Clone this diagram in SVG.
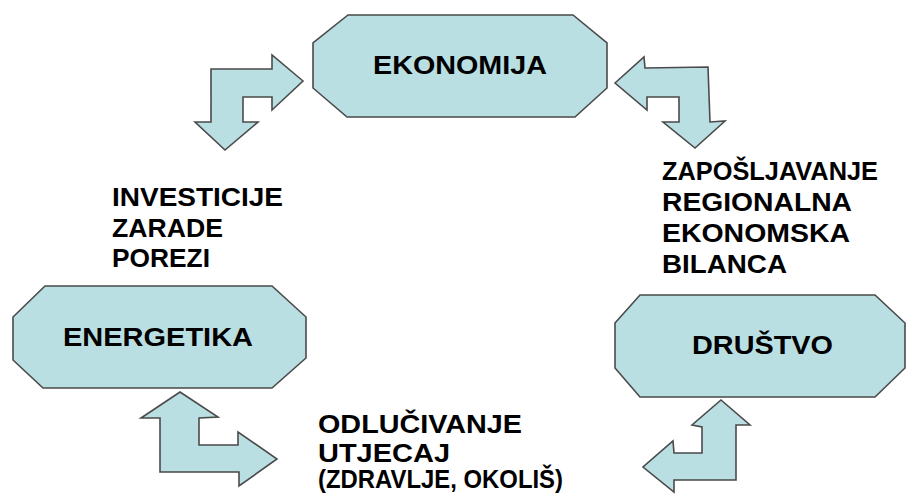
<svg xmlns="http://www.w3.org/2000/svg" width="913" height="495" viewBox="0 0 913 495">
<style>
.shape{fill:#BADFE3;stroke:#4a4a4a;stroke-width:1.6;stroke-linejoin:miter}
.lbl{font-family:"Liberation Sans",Arial,sans-serif;font-weight:bold;font-size:25px;fill:#000}
</style>
<rect width="913" height="495" fill="#fff"/>
<g id="ekonomija">
<polygon class="shape" points="348,15 573,15 607,43 607,88 575,117 347,117 313,88 313,43"/>
<text class="lbl" x="373" y="74" textLength="174" lengthAdjust="spacingAndGlyphs">EKONOMIJA</text>
</g>
<g id="energetika">
<polygon class="shape" points="45,286 272,286 306,317 306,358 272,388 43,388 13,360 13,317"/>
<text class="lbl" x="63" y="346" textLength="190" lengthAdjust="spacingAndGlyphs">ENERGETIKA</text>
</g>
<g id="drustvo">
<polygon class="shape" points="640,295 875,295 905,323 905,368 875,397 640,397 615,368 615,323"/>
<text class="lbl" x="692" y="354" textLength="141" lengthAdjust="spacingAndGlyphs">DRUŠTVO</text>
</g>
<g id="connectors">
<polygon class="shape" points="303,81 272,55 272,69 211,69 211,122 195,122 225,150 258,122 243,122 243,97 272,97 272,110"/>
<polygon class="shape" points="615,83 644,57 645,68 708,67 710,122 725,121 695,148 663,122 679,122 679,97 647,97 647,110"/>
<polygon class="shape" points="180,392 218,417 199,418 199,445 238,445 238,432 277,459 239,486 239,472 160,472 160,418 141,418"/>
<polygon class="shape" points="721,400 750,425 736,425 736,480 674,480 674,492 643,467 673,441 674,453 702,453 702,427 692,425"/>
</g>
<g id="labels">
<text class="lbl" x="112" y="206" textLength="171" lengthAdjust="spacingAndGlyphs">INVESTICIJE</text>
<text class="lbl" x="112" y="237" textLength="111" lengthAdjust="spacingAndGlyphs">ZARADE</text>
<text class="lbl" x="112" y="267" textLength="98" lengthAdjust="spacingAndGlyphs">POREZI</text>
<text class="lbl" x="662" y="180" textLength="216" lengthAdjust="spacingAndGlyphs">ZAPOŠLJAVANJE</text>
<text class="lbl" x="662" y="211" textLength="190" lengthAdjust="spacingAndGlyphs">REGIONALNA</text>
<text class="lbl" x="662" y="242" textLength="188" lengthAdjust="spacingAndGlyphs">EKONOMSKA</text>
<text class="lbl" x="662" y="273" textLength="125" lengthAdjust="spacingAndGlyphs">BILANCA</text>
<text class="lbl" x="318" y="433" textLength="204" lengthAdjust="spacingAndGlyphs">ODLUČIVANJE</text>
<text class="lbl" x="318" y="462" textLength="132" lengthAdjust="spacingAndGlyphs">UTJECAJ</text>
<text class="lbl" x="318" y="488" textLength="245" lengthAdjust="spacingAndGlyphs">(ZDRAVLJE, OKOLIŠ)</text>
</g>
</svg>
